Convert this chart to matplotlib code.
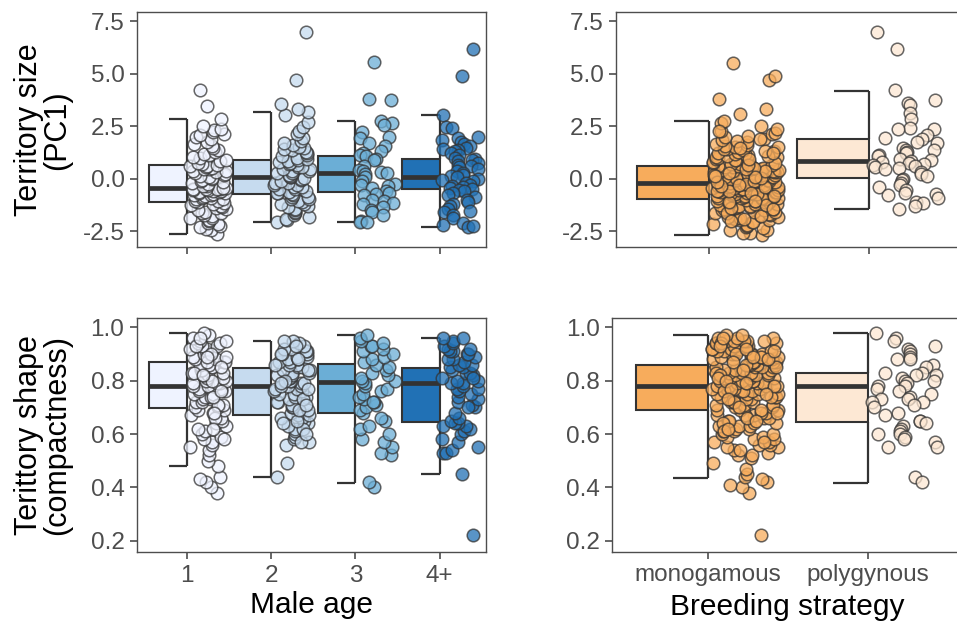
import numpy as np
import matplotlib
matplotlib.use("Agg")
from matplotlib import pyplot as plt

plt.rcParams["font.family"] = ["Liberation Sans", "DejaVu Sans"]

age_labels = ["1", "2", "3", "4+"]
strategy_labels = ["monogamous", "polygynous"]

age_colors = ["#EFF3FF", "#C6DBEF", "#6BAED6", "#2171B5"]
strategy_colors = ["#F7AC5C", "#FDE8D4"]

# box stats: (lower whisker, q1, median, q3, upper whisker)
size_age_stats = [(-2.66, -1.10, -0.47, 0.64, 2.83),
                  (-2.06, -0.75, 0.09, 0.88, 3.18),
                  (-2.06, -0.63, 0.28, 1.09, 2.75),
                  (-2.30, -0.51, 0.06, 0.91, 3.02)]
size_strategy_stats = [(-2.69, -0.98, -0.23, 0.61, 2.74),
                       (-1.47, 0.04, 0.85, 1.90, 4.18)]
shape_age_stats = [(0.480, 0.697, 0.781, 0.870, 0.980),
                   (0.438, 0.672, 0.781, 0.849, 0.947),
                   (0.417, 0.678, 0.795, 0.862, 0.971),
                   (0.449, 0.645, 0.790, 0.846, 0.959)]
shape_strategy_stats = [(0.436, 0.689, 0.779, 0.859, 0.971),
                        (0.417, 0.647, 0.779, 0.830, 0.979)]

# territory size (PC1)
size_age1 = [-2.66, -2.47, -2.41, -2.30, -2.27, -2.16, -2.11, -2.02, -1.97, -1.88, -1.86, -1.77,
             -1.74, -1.66, -1.63, -1.57, -1.49, -1.47, -1.40, -1.35, -1.33, -1.26, -1.19, -1.17, -1.12,
             -1.07, -1.05, -0.99, -0.98, -0.93, -0.91, -0.86, -0.85, -0.80, -0.77, -0.76, -0.71,
             -0.70, -0.65, -0.62, -0.61, -0.57, -0.56, -0.53, -0.52, -0.50, -0.49, -0.48, -0.47,
             -0.44, -0.37, -0.34, -0.28, -0.21, -0.18, -0.11, -0.08, -0.01, 0.02, 0.09, 0.11, 0.18,
             0.20, 0.27, 0.29, 0.35, 0.38, 0.44, 0.46, 0.52, 0.54, 0.59, 0.60, 0.64,
             0.70, 0.74, 0.83, 0.88, 0.97, 1.02, 1.12, 1.18, 1.28, 1.35, 1.46, 1.54, 1.66, 1.75,
             1.88, 1.96, 2.07, 2.13, 2.23, 2.29, 2.38, 2.51, 2.83, 3.45, 4.20]
size_age2 = [-2.06, -1.97, -1.91, -1.81, -1.75, -1.65, -1.59, -1.49, -1.44, -1.35, -1.31,
             -1.23, -1.19, -1.11, -1.07, -0.99, -0.96, -0.89, -0.86, -0.79, -0.76,
             -0.71, -0.69, -0.62, -0.59, -0.52, -0.49, -0.42, -0.39, -0.32, -0.29, -0.22,
             -0.19, -0.12, -0.09, -0.02, 0.01, 0.06, 0.09,
             0.14, 0.17, 0.24, 0.27, 0.34, 0.37, 0.44, 0.47, 0.54, 0.57, 0.64, 0.67, 0.74, 0.77,
             0.84, 0.87, 0.94, 0.99, 1.08, 1.13, 1.21, 1.26, 1.34, 1.39, 1.47, 1.51, 1.61,
             1.69, 1.81, 1.94, 2.11, 2.27, 2.46, 2.68, 3.01, 3.18, 3.32, 3.55, 4.70, 7.00]
size_age3 = [5.55, 3.80, 3.75, 2.75, 2.65, 2.55, 2.20, 2.00, 1.95, 1.70, 1.55, 1.30, 1.20,
             1.10, 1.05, 0.95, 0.90, 0.60, 0.40, 0.35, 0.30, 0.25, 0.20, 0.05, -0.10, -0.25,
             -0.30, -0.35, -0.45, -0.60, -0.70, -0.75, -0.80, -1.00, -1.05, -1.15, -1.20,
             -1.35, -1.50, -1.60, -1.75, -2.00, -2.05, -2.06]
size_age4 = [6.15, 4.90, 3.02, 2.45, 2.40, 2.00, 1.95, 1.85, 1.75, 1.65, 1.55, 1.45, 1.40,
             1.35, 1.30, 1.20, 1.10, 1.00, 0.95, 0.90, 0.85, 0.75, 0.65, 0.60, 0.55, 0.45,
             0.35, 0.25, 0.15, 0.10, 0.06, 0.00, -0.05, -0.10, -0.20, -0.30, -0.35, -0.40,
             -0.45, -0.50, -0.55, -0.60, -0.70, -0.80, -0.90, -1.00, -1.10, -1.20, -1.30,
             -1.45, -1.55, -1.60, -1.75, -1.90, -2.10, -2.20, -2.30, -2.25]
size_mono = [-2.69, -2.61, -2.57, -2.47, -2.44, -2.35, -2.31, -2.26, -2.19, -2.16, -2.09,
             -2.06, -1.99, -1.97, -1.91, -1.89, -1.83, -1.81, -1.75, -1.73, -1.67, -1.66,
             -1.61, -1.58, -1.55, -1.52, -1.49, -1.46, -1.43, -1.41, -1.37, -1.34, -1.31,
             -1.29, -1.26, -1.23, -1.21, -1.17, -1.15, -1.12, -1.10, -1.07, -1.05, -1.02, -0.99,
             -0.97, -0.95, -0.94, -0.91, -0.89, -0.88, -0.85, -0.83, -0.81, -0.80, -0.77,
             -0.75, -0.74, -0.71, -0.70, -0.68, -0.65, -0.64, -0.62, -0.60, -0.58, -0.56,
             -0.55, -0.53, -0.51, -0.49, -0.48, -0.46, -0.44, -0.43, -0.41, -0.39, -0.38,
             -0.36, -0.35, -0.33, -0.32, -0.31, -0.29, -0.28, -0.27, -0.25, -0.24, -0.23,
             -0.21, -0.19, -0.17, -0.15, -0.13, -0.11, -0.09, -0.08, -0.05, -0.03, -0.02,
             0.01, 0.03, 0.05, 0.07, 0.09, 0.11, 0.13, 0.15, 0.16, 0.19, 0.21, 0.23, 0.24,
             0.27, 0.29, 0.31, 0.33, 0.35, 0.37, 0.38, 0.41, 0.43, 0.45, 0.47, 0.49, 0.51,
             0.53, 0.55, 0.57, 0.59, 0.61,
             0.64, 0.67, 0.71, 0.73, 0.77, 0.80, 0.83, 0.87, 0.90, 0.94, 0.97, 1.01, 1.04,
             1.08, 1.12, 1.15, 1.19, 1.23, 1.27, 1.30, 1.35, 1.39, 1.43, 1.48, 1.52, 1.57,
             1.61, 1.66, 1.72, 1.77, 1.83, 1.89, 1.96, 2.03, 2.11, 2.19, 2.28, 2.37, 2.52,
             2.63, 2.74, 3.05, 3.30, 3.80, 4.70, 4.90, 5.50,
             -1.95, -1.62, -1.38, -1.14, -0.92, -0.73, -0.57, -0.42, -0.26, -0.12, 0.04,
             0.18, 0.34, 0.52, 0.75, 1.05, 1.33, -1.78, -1.24, -0.67, -0.31, 0.08, 0.44,
             1.21, 1.86, 2.24, -2.02, -1.45, -1.08, -0.84, -0.61, -0.37, -0.18, 0.12, 0.28,
             0.63, 0.92, 1.46]
size_poly = [7.00, 6.15, 4.20, 3.75, 3.60, 3.50, 3.10, 2.85, 2.40, 2.35, 2.35, 2.05, 1.95,
             1.90, 1.75, 1.70, 1.45, 1.35, 1.35, 1.25, 1.20, 1.10, 1.05, 0.95, 0.90, 0.85,
             0.80, 0.75, 0.70, 0.65, 0.60, 0.55, 0.50, 0.45, 0.30, 0.20, 0.10, 0.00, -0.05,
             -0.20, -0.30, -0.40, -0.55, -0.70, -0.75, -0.80, -0.95, -1.10, -1.15, -1.30, -1.45]

# territory shape (compactness)
shape_age1 = [0.38, 0.40, 0.42, 0.43, 0.44, 0.48, 0.50, 0.52, 0.54, 0.55, 0.56, 0.57, 0.58,
              0.59, 0.60, 0.61, 0.62, 0.63, 0.64, 0.65, 0.66, 0.67, 0.68, 0.69, 0.69, 0.70,
              0.70, 0.71, 0.72, 0.72, 0.73, 0.73, 0.74, 0.74, 0.75, 0.75, 0.76, 0.76, 0.77,
              0.77, 0.77, 0.78, 0.78, 0.78, 0.79, 0.79, 0.79, 0.80, 0.80, 0.81, 0.81, 0.82,
              0.82, 0.83, 0.83, 0.84, 0.84, 0.85, 0.85, 0.86, 0.86, 0.87, 0.87, 0.88, 0.88,
              0.89, 0.89, 0.90, 0.90, 0.91, 0.91, 0.92, 0.92, 0.93, 0.93, 0.94, 0.94, 0.95,
              0.95, 0.96, 0.97, 0.98, 0.66, 0.71, 0.74, 0.80, 0.83, 0.87, 0.90, 0.93, 0.96,
              0.58, 0.62, 0.68, 0.76, 0.82, 0.85, 0.89]
shape_age2 = [0.44, 0.49, 0.56, 0.57, 0.58, 0.59, 0.60, 0.61, 0.62, 0.63, 0.64, 0.65, 0.66,
              0.66, 0.67, 0.67, 0.68, 0.69, 0.70, 0.70, 0.71, 0.72, 0.72, 0.73, 0.74, 0.74,
              0.75, 0.75, 0.76, 0.76, 0.77, 0.77, 0.78, 0.78, 0.78, 0.79, 0.79, 0.80, 0.80,
              0.81, 0.81, 0.82, 0.82, 0.83, 0.83, 0.84, 0.84, 0.85, 0.85, 0.86, 0.86, 0.87,
              0.87, 0.88, 0.88, 0.89, 0.89, 0.90, 0.90, 0.91, 0.91, 0.92, 0.92, 0.93, 0.94,
              0.95, 0.95, 0.57, 0.62, 0.65, 0.69, 0.73, 0.77, 0.80, 0.84, 0.88, 0.90, 0.93,
              0.60, 0.64, 0.71, 0.79, 0.86]
shape_age3 = [0.40, 0.42, 0.52, 0.53, 0.55, 0.57, 0.58, 0.60, 0.62, 0.63, 0.65, 0.66, 0.68,
              0.69, 0.70, 0.71, 0.72, 0.73, 0.74, 0.75, 0.76, 0.77, 0.78, 0.79, 0.80, 0.80,
              0.81, 0.82, 0.83, 0.84, 0.85, 0.86, 0.87, 0.88, 0.89, 0.90, 0.91, 0.92, 0.93,
              0.93, 0.94, 0.95, 0.96, 0.97, 0.72]
shape_age4 = [0.22, 0.45, 0.53, 0.53, 0.54, 0.55, 0.57, 0.58, 0.60, 0.61, 0.62, 0.63, 0.63,
              0.64, 0.64, 0.65, 0.66, 0.68, 0.70, 0.71, 0.72, 0.73, 0.74, 0.75, 0.76, 0.77,
              0.77, 0.78, 0.79, 0.79, 0.80, 0.80, 0.81, 0.82, 0.83, 0.83, 0.84, 0.85, 0.85,
              0.86, 0.86, 0.87, 0.88, 0.88, 0.89, 0.90, 0.90, 0.91, 0.91, 0.92, 0.92, 0.93,
              0.94, 0.95, 0.96, 0.96, 0.70, 0.81]
shape_mono = [0.22, 0.38, 0.40, 0.41, 0.42, 0.43, 0.44, 0.45, 0.47, 0.49, 0.51, 0.52, 0.52,
              0.53, 0.54, 0.54, 0.55, 0.55, 0.56, 0.56, 0.57, 0.57, 0.58, 0.58, 0.59, 0.59,
              0.60, 0.60, 0.61, 0.61, 0.62, 0.62, 0.63, 0.63, 0.63, 0.64, 0.64, 0.65, 0.65,
              0.66, 0.66, 0.67, 0.67, 0.67, 0.68, 0.68, 0.69, 0.69, 0.69,
              0.70, 0.70, 0.70, 0.71, 0.71, 0.71, 0.72, 0.72, 0.72, 0.73, 0.73, 0.73, 0.74,
              0.74, 0.74, 0.75, 0.75, 0.75, 0.75, 0.76, 0.76, 0.76, 0.76, 0.77, 0.77, 0.77,
              0.77, 0.78, 0.78, 0.78, 0.78, 0.79, 0.79, 0.79, 0.79, 0.80, 0.80, 0.80, 0.80,
              0.81, 0.81, 0.81, 0.81, 0.82, 0.82, 0.82, 0.82, 0.83, 0.83, 0.83, 0.83, 0.84,
              0.84, 0.84, 0.84, 0.85, 0.85, 0.85, 0.85, 0.86, 0.86, 0.86, 0.86,
              0.87, 0.87, 0.87, 0.87, 0.88, 0.88, 0.88, 0.88, 0.89, 0.89, 0.89, 0.89, 0.90,
              0.90, 0.90, 0.90, 0.91, 0.91, 0.91, 0.91, 0.92, 0.92, 0.92, 0.92, 0.93, 0.93,
              0.93, 0.93, 0.94, 0.94, 0.94, 0.94, 0.95, 0.95, 0.95, 0.95, 0.96, 0.96, 0.96,
              0.97, 0.97, 0.64, 0.68, 0.72, 0.76, 0.79, 0.83, 0.86, 0.90, 0.94, 0.57, 0.61,
              0.66, 0.74, 0.78, 0.82, 0.85, 0.89, 0.93, 0.96, 0.70, 0.75, 0.81, 0.88,
              0.91, 0.87, 0.84, 0.80, 0.77, 0.73, 0.69, 0.65, 0.62, 0.95, 0.92, 0.89]
shape_poly = [0.98, 0.96, 0.95, 0.93, 0.92, 0.91, 0.90, 0.89, 0.88, 0.88, 0.86, 0.85, 0.83,
              0.83, 0.82, 0.82, 0.81, 0.80, 0.80, 0.79, 0.78, 0.78, 0.77, 0.76, 0.75, 0.74,
              0.73, 0.73, 0.72, 0.72, 0.71, 0.70, 0.68, 0.67, 0.65, 0.65, 0.64, 0.63, 0.62,
              0.61, 0.60, 0.60, 0.59, 0.58, 0.57, 0.55, 0.55, 0.44, 0.42]

W, H = 957, 623
EDGE = "#333333"
AXIS = "#4D4D4D"


def px_axes(fig, x0, y0, x1, y1):
    return fig.add_axes([x0 / W, 1 - y1 / H, (x1 - x0) / W, (y1 - y0) / H])


def jitter(n, lo, hi, seed):
    # deterministic hash spread for the point cloud (horizontal position only)
    k = np.arange(n) + 1.0
    frac = (np.sin(k * 12.9898 + seed * 78.233) * 43758.5453) % 1.0
    return lo + (hi - lo) * frac


def raincloud(ax, groups, stats, colors, pt_lo, pt_hi):
    for i, (vals, st, col) in enumerate(zip(groups, stats, colors)):
        lo, q1, med, q3, hi = st
        ax.bar(i, q3 - q1, bottom=q1, width=-0.45, align="edge",
               color=col, edgecolor=EDGE, linewidth=1.5, zorder=2)
        ax.hlines(med, i - 0.45, i, color=EDGE, linewidth=3.4, zorder=3)
        ax.vlines(i, q3, hi, color=EDGE, linewidth=1.6, zorder=2)
        ax.vlines(i, lo, q1, color=EDGE, linewidth=1.6, zorder=2)
        ax.hlines([lo, hi], i - 0.22, i, color=EDGE, linewidth=1.6, zorder=2)
        xs = i + jitter(len(vals), pt_lo, pt_hi, i + 1)
        ax.scatter(xs, vals, s=82, facecolor=col, edgecolor=(0.2, 0.2, 0.2, 0.85),
                   linewidth=1.1, alpha=0.75, zorder=4)


def style(ax, labels, xlim, ylim, yticks, show_xlabels):
    ax.set_xlim(*xlim)
    ax.set_ylim(*ylim)
    ax.set_xticks(range(len(labels)))
    ax.set_xticklabels(labels if show_xlabels else [])
    ax.set_yticks(yticks)
    for sp in ax.spines.values():
        sp.set_color(AXIS)
        sp.set_linewidth(1.0)
    ax.tick_params(colors=AXIS, labelcolor=AXIS, labelsize=17.5, length=5, width=1.2, pad=4)


fig = plt.figure(figsize=(W / 100, H / 100), dpi=100)

size_ticks = [-2.5, 0.0, 2.5, 5.0, 7.5]
shape_ticks = [0.2, 0.4, 0.6, 0.8, 1.0]
size_ylim = (-3.26, 7.93)
shape_ylim = (0.158, 1.035)

ax1 = px_axes(fig, 137, 12, 486, 247)
raincloud(ax1, [size_age1, size_age2, size_age3, size_age4], size_age_stats, age_colors, 0.03, 0.47)
style(ax1, age_labels, (-0.595, 3.55), size_ylim, size_ticks, False)
ax1.yaxis.set_major_formatter(matplotlib.ticker.FormatStrFormatter("%.1f"))

ax2 = px_axes(fig, 616, 12, 958, 247)
raincloud(ax2, [size_mono, size_poly], size_strategy_stats, strategy_colors, 0.02, 0.44)
style(ax2, strategy_labels, (-0.58, 1.556), size_ylim, size_ticks, False)
ax2.yaxis.set_major_formatter(matplotlib.ticker.FormatStrFormatter("%.1f"))

ax3 = px_axes(fig, 137, 318, 486, 552)
raincloud(ax3, [shape_age1, shape_age2, shape_age3, shape_age4], shape_age_stats, age_colors, 0.03, 0.47)
style(ax3, age_labels, (-0.595, 3.55), shape_ylim, shape_ticks, True)

ax4 = px_axes(fig, 612, 318, 958, 552)
raincloud(ax4, [shape_mono, shape_poly], shape_strategy_stats, strategy_colors, 0.02, 0.44)
style(ax4, strategy_labels, (-0.60, 1.56), shape_ylim, shape_ticks, True)

fig.text(43 / W, 1 - 130 / H, "Territory size\n(PC1)", rotation=90, ha="center", va="center",
         fontsize=22, linespacing=0.95)
fig.text(43 / W, 1 - 435 / H, "Terittory shape\n(compactness)", rotation=90, ha="center",
         va="center", fontsize=22, linespacing=0.95)
fig.text(311 / W, 1 - 605 / H, "Male age", ha="center", va="center", fontsize=21.5)
fig.text(787 / W, 1 - 607 / H, "Breeding strategy", ha="center", va="center", fontsize=21.5)

fig.savefig("out.png", dpi=100)
